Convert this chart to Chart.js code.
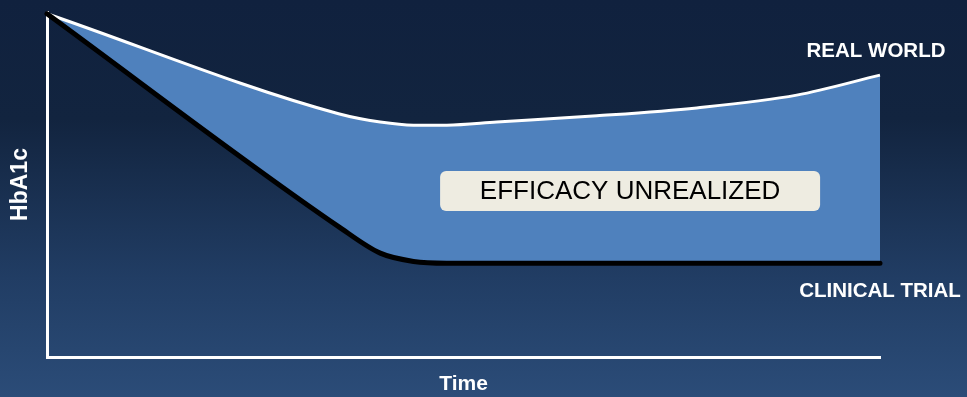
<!DOCTYPE html>
<html>
<head>
<meta charset="utf-8">
<script src="https://cdn.jsdelivr.net/npm/chart.js@4/dist/chart.umd.min.js"></script>
<style>
  html, body { margin: 0; padding: 0; }
  body {
    width: 967px; height: 397px; overflow: hidden;
    background: linear-gradient(to bottom, #10213e 0%, #12243f 30%, #213d64 70%, #2b4c78 100%);
  }
  #wrap { position: relative; width: 967px; height: 397px; }
</style>
</head>
<body>
<div id="wrap"><canvas id="hba1cChart"></canvas></div>
<script>
// time points (0 = start of therapy, 100 = end of follow-up)
const timePoints = [0, 35, 40, 44, 48, 54, 66, 78, 90, 100];
// HbA1c level, relative units (100 = baseline)
const realWorld = [99.5, 70.5, 68.1, 67.2, 67.2, 68.1, 69.9, 72.2, 75.9, 81.7];
const clinicalTrial = [99.5, 37.8, 30.1, 27.7, 27.2, 27.2, 27.2, 27.2, 27.2, 27.2];

const seriesNames = ['CLINICAL TRIAL', 'REAL WORLD'];
const gapLabel = 'EFFICACY UNREALIZED';

function toPoints(values) {
  return timePoints.map(function (t, i) { return { x: t, y: values[i] }; });
}

// end-of-line labels and the gap callout
const labelsPlugin = {
  id: 'labels',
  afterDraw: function (chart) {
    const ctx = chart.ctx;
    const xs = chart.scales.x;
    const ys = chart.scales.y;
    ctx.save();
    ctx.fillStyle = '#ffffff';
    ctx.font = 'bold 20.5px "Liberation Sans", Arial, sans-serif';
    ctx.textAlign = 'center';
    ctx.textBaseline = 'middle';
    ctx.fillText(seriesNames[1], 876, 51);
    ctx.fillText(seriesNames[0], 880, 291);

    // callout box sits inside the gap between the two curves
    const cx = xs.getPixelForValue(70);
    const cy = ys.getPixelForValue(48.1);
    const w = 380, h = 40;
    ctx.fillStyle = '#eeece1';
    ctx.beginPath();
    ctx.roundRect(cx - w / 2, cy - h / 2, w, h, 6);
    ctx.fill();
    ctx.fillStyle = '#000000';
    ctx.font = '26px "Liberation Sans", Arial, sans-serif';
    ctx.fillText(gapLabel, cx, cy + 1);
    ctx.restore();
  }
};

const ctx = document.getElementById('hba1cChart').getContext('2d');
new Chart(ctx, {
  type: 'line',
  data: {
    datasets: [{
      label: seriesNames[0],
      data: toPoints(clinicalTrial),
      borderColor: '#000000',
      borderWidth: 5,
      borderCapStyle: 'round',
      fill: '+1',
      backgroundColor: '#4f81bd',
      pointRadius: 0,
      cubicInterpolationMode: 'monotone',
      clip: false
    }, {
      label: seriesNames[1],
      data: toPoints(realWorld),
      borderColor: '#ffffff',
      borderWidth: 3,
      fill: false,
      pointRadius: 0,
      cubicInterpolationMode: 'monotone',
      clip: false
    }]
  },
  options: {
    responsive: true,
    maintainAspectRatio: false,
    animation: false,
    layout: { padding: { top: 12, right: 87, left: 0, bottom: 0 } },
    plugins: {
      legend: { display: false },
      tooltip: { enabled: false },
      filler: { drawTime: 'beforeDatasetsDraw' }
    },
    scales: {
      x: {
        type: 'linear',
        min: 0,
        max: 100,
        grid: { display: false, drawTicks: false },
        border: { color: '#ffffff', width: 3 },
        ticks: { display: false },
        title: {
          display: true,
          text: 'Time',
          color: '#ffffff',
          font: { family: '"Liberation Sans", Arial, sans-serif', size: 21, weight: 'bold' },
          padding: { top: 10, bottom: 0 }
        },
        afterFit: function (scale) { scale.height = 40; }
      },
      y: {
        min: 0,
        max: 100,
        grid: { display: false, drawTicks: false },
        border: { color: '#ffffff', width: 3 },
        ticks: { display: false },
        title: {
          display: true,
          text: 'HbA1c',
          color: '#ffffff',
          font: { family: '"Liberation Sans", Arial, sans-serif', size: 23, weight: 'bold' },
          padding: { top: 7, bottom: 0 }
        },
        afterFit: function (scale) { scale.width = 47; }
      }
    }
  },
  plugins: [labelsPlugin]
});
</script>
</body>
</html>
